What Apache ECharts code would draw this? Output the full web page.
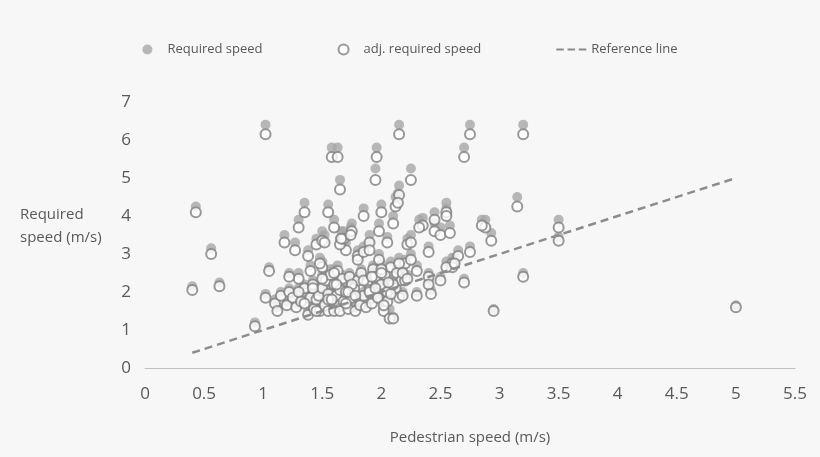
<!DOCTYPE html>
<html><head><meta charset="utf-8">
<script src="https://cdn.jsdelivr.net/npm/echarts@6/dist/echarts.min.js"></script>
<style>html,body{margin:0;background:#f7f7f7}#main{width:820px;height:457px}</style>
</head><body><div id="main"></div>
<script>
// pedestrian speed (m/s) per observation
var pedSpeed = [0.4,0.43,0.56,0.63,0.93,1.02,1.02,1.05,1.58,1.63,1.96,2.15,2.7,2.75,3.2,3.15,3.2,2.95,3.5,3.5,5.0,2.88,2.93,2.7,2.75,2.85,
  1.1,1.12,1.15,1.18,1.2,1.22,1.25,1.27,1.28,1.3,1.3,1.32,1.35,1.35,1.38,1.4,1.4,1.42,1.43,1.45,1.45,1.47,1.48,1.5,1.5,1.5,1.52,1.53,1.55,1.55,1.55,1.57,1.58,1.6,1.6,1.6,1.62,1.63,1.65,1.65,1.65,1.67,1.68,1.7,1.7,1.72,1.73,1.75,1.75,1.77,1.78,1.8,1.8,1.82,1.83,1.85,1.85,1.87,1.88,1.9,1.9,1.92,1.93,1.95,1.95,1.97,1.98,2.0,2.0,2.02,2.03,2.05,2.05,2.07,2.08,2.1,2.1,2.12,2.13,2.15,2.15,2.17,2.18,2.2,2.22,2.25,
  1.3,1.35,1.42,1.5,1.55,1.6,1.65,1.7,1.75,1.8,1.85,1.9,1.95,2.0,2.05,2.1,2.15,2.2,2.25,2.3,2.35,2.4,2.45,2.5,2.55,2.6,
  1.45,1.52,1.58,1.62,1.68,1.72,1.78,1.85,1.92,1.98,2.02,2.08,2.12,2.18,2.25,2.32,2.4,2.45,2.5,2.55,2.6,2.65,
  1.22,1.38,1.48,1.66,1.74,1.9,2.0,2.06,2.14,2.22,2.3,2.4,2.42,2.55,2.58,2.62];
var requiredSpeed = [2.15,4.25,3.15,2.25,1.2,6.4,1.95,2.65,5.8,5.8,5.8,6.4,5.8,6.4,6.4,4.5,2.5,1.55,3.9,3.45,1.65,3.9,3.55,2.35,3.2,3.9,
  1.8,1.6,2.0,3.5,1.75,2.1,1.95,3.3,1.7,2.5,3.9,1.85,2.2,4.35,1.5,1.95,2.7,2.3,1.65,1.9,3.4,2.0,1.55,2.2,2.8,3.6,1.75,2.4,1.6,2.05,4.3,2.6,1.9,1.55,2.3,3.9,2.0,2.7,1.6,2.15,4.95,2.45,1.85,2.1,3.3,1.65,2.5,1.95,3.8,2.2,1.6,2.4,3.1,1.75,2.6,2.0,4.2,1.7,2.35,2.15,3.5,1.8,2.7,2.5,5.25,1.95,3.0,2.3,4.3,1.6,2.55,2.1,3.45,1.55,2.8,1.35,4.0,2.2,2.6,1.95,4.8,2.4,2.0,2.85,3.4,5.25,
  2.1,1.8,2.2,2.45,1.9,2.6,3.4,1.8,2.3,3.0,2.4,2.1,2.2,2.75,1.85,2.3,2.9,2.4,3.5,2.0,3.95,2.5,3.8,2.4,4.35,2.9,
  1.6,3.5,1.9,2.3,3.6,2.1,2.0,3.2,2.5,3.8,1.75,2.05,4.5,2.6,3.0,3.9,2.3,4.1,3.7,4.2,2.8,3.1,
  2.5,3.1,2.9,3.6,3.7,3.3,2.65,2.35,4.6,2.45,2.7,3.2,2.05,2.8,3.75,2.9];
var adjRequiredSpeed = [2.05,4.1,3.0,2.15,1.1,6.15,1.85,2.55,5.55,5.55,5.55,6.15,5.55,6.15,6.15,4.25,2.4,1.5,3.7,3.35,1.6,3.7,3.35,2.25,3.05,3.75,
  1.7,1.5,1.9,3.3,1.65,2.0,1.85,3.1,1.6,2.35,3.7,1.75,2.1,4.1,1.4,1.85,2.55,2.2,1.55,1.8,3.25,1.9,1.5,2.1,2.65,3.35,1.65,2.3,1.5,1.95,4.1,2.45,1.8,1.5,2.2,3.7,1.9,2.55,1.5,2.05,4.7,2.35,1.75,2.0,3.1,1.55,2.4,1.85,3.6,2.1,1.5,2.3,2.95,1.65,2.5,1.9,4.0,1.6,2.25,2.05,3.3,1.7,2.6,2.4,4.95,1.85,2.85,2.2,4.1,1.5,2.45,2.0,3.3,1.3,2.65,1.3,3.8,2.1,2.5,1.85,4.55,2.3,1.9,2.75,3.25,4.95,
  2.0,1.7,2.1,2.35,1.8,2.5,3.25,1.7,2.2,2.85,2.3,2.0,2.1,2.6,1.75,2.2,2.75,2.3,3.3,1.9,3.75,2.4,3.6,2.3,4.1,2.75,
  1.5,3.3,1.8,2.2,3.4,2.0,1.9,3.05,2.4,3.6,1.65,1.95,4.25,2.5,2.85,3.7,2.2,3.9,3.5,4.0,2.65,2.95,
  2.4,2.95,2.75,3.4,3.5,3.1,2.5,2.25,4.35,2.35,2.55,3.05,1.95,2.65,3.55,2.75];
var refLine = [[0.4, 0.4], [5, 5]];
var xTicks = ['0','0.5','1','1.5','2','2.5','3','3.5','4','4.5','5','5.5'];

var myChart = echarts.init(document.getElementById('main'));
var reqData = pedSpeed.map(function (x, i) { return [x, requiredSpeed[i]]; });
var adjData = pedSpeed.map(function (x, i) { return [x, adjRequiredSpeed[i]]; });
var tickFont = { color: '#595959', fontSize: 17, fontFamily: 'Open Sans' };

myChart.setOption({
    backgroundColor: '#f7f7f7',
    animation: false,
    textStyle: { fontFamily: 'Open Sans' },
    legend: {
        top: 38, left: 'center', itemGap: 75, itemWidth: 30, itemHeight: 10,
        textStyle: { color: '#595959', fontSize: 13 },
        data: [
            { name: 'Required speed', icon: 'circle' },
            { name: 'adj. required speed', icon: 'emptyCircle' },
            { name: 'Reference line', icon: 'path://M0,4H8V6H0Z M12,4H20V6H12Z M24,4H32V6H24Z' }
        ]
    },
    grid: { left: 145, right: 25, top: 102, bottom: 89 },
    xAxis: {
        type: 'value', min: 0, max: 5.5, interval: 0.5,
        axisLine: { lineStyle: { color: '#bfbfbf' } },
        axisTick: { show: false },
        splitLine: { show: false },
        axisLabel: Object.assign({ margin: 18, formatter: function (v) { return xTicks[Math.round(v * 2)]; } }, tickFont),
        name: 'Pedestrian speed (m/s)', nameLocation: 'middle', nameGap: 62,
        nameTextStyle: { color: '#595959', fontSize: 15 }
    },
    yAxis: {
        type: 'value', min: 0, max: 7, interval: 1,
        axisLine: { show: false }, axisTick: { show: false },
        splitLine: { show: false },
        axisLabel: Object.assign({ margin: 14 }, tickFont)
    },
    graphic: [{
        type: 'text', left: 20, top: 203,
        style: { text: 'Required\nspeed (m/s)', fill: '#595959', fontSize: 15, fontFamily: 'Open Sans', align: 'right', lineHeight: 23, x: 74 }
    }],
    series: [
        { name: 'Required speed', type: 'scatter', symbol: 'circle', symbolSize: 10, data: reqData,
          itemStyle: { color: '#a6a6a6' } },
        { name: 'adj. required speed', type: 'scatter', symbol: 'emptyCircle', symbolSize: 10, data: adjData,
          itemStyle: { color: '#808080', borderWidth: 1.5 } },
        { name: 'Reference line', type: 'line', data: refLine, symbol: 'none',
          itemStyle: { color: '#8c8c8c' },
          lineStyle: { color: '#8c8c8c', width: 2.5, type: [8, 5] } }
    ]
});
</script></body></html>
